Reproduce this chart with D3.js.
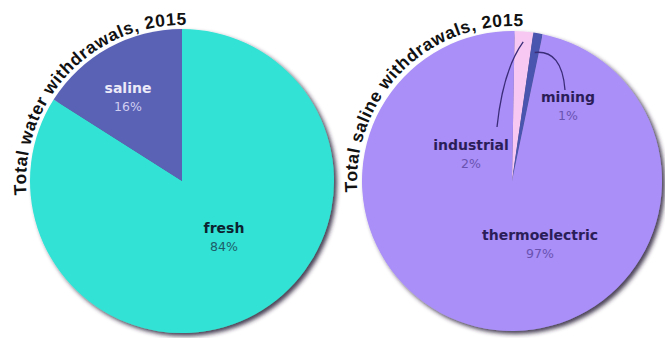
<!DOCTYPE html>
<html>
<head>
<meta charset="utf-8">
<script src="https://cdn.jsdelivr.net/npm/d3@7"></script>
<style>
  body { margin: 0; background: #fff; }
  svg { display: block; }
</style>
</head>
<body>
<div id="vis"></div>
<script>
// data
var totalCats = ["fresh", "saline"];
var totalVals = [84, 16];
var salineCats = ["industrial", "mining", "thermoelectric"];
var salineVals = [2, 1, 97];
var titles = ["Total water withdrawals, 2015", "Total saline withdrawals, 2015"];

var width = 665, height = 338;

var colorArray = {
    "fresh": "#33e2d4",
    "saline": "#5a62b6",
    "industrial": "#f6c8f2",
    "mining": "#4a55ae",
    "thermoelectric": "#a98ff7"
};
var nameColor = {
    "fresh": "#0d2230", "saline": "#eceaf8",
    "industrial": "#2b1d57", "mining": "#2b1d57", "thermoelectric": "#2b1d57"
};
var pctColor = {
    "fresh": "#1d5d6a", "saline": "#cfcdf0",
    "industrial": "#6a52b2", "mining": "#6a52b2", "thermoelectric": "#6a52b2"
};
// label baseline, relative to pie centre
var labelOffset = {
    "saline": [-54, -88], "fresh": [42, 52],
    "industrial": [-41, -31], "mining": [56, -79], "thermoelectric": [28, 59]
};

var svg = d3.select("#vis").append("svg")
    .attr("width", width)
    .attr("height", height);

var defs = svg.append("defs");
defs.append("filter")
    .attr("id", "shadow")
    .attr("x", "-10%").attr("y", "-10%")
    .attr("width", "125%").attr("height", "125%")
    .append("feDropShadow")
    .attr("dx", 3).attr("dy", 3)
    .attr("stdDeviation", 2.2)
    .attr("flood-color", "#2a2438")
    .attr("flood-opacity", 0.85);

var pies = [
    { cats: totalCats, vals: totalVals, cx: 182, cy: 181, r: 152, start: 0, title: titles[0], titleR: 156, titleFrom: -95, titleTo: 1.5 },
    { cats: salineCats, vals: salineVals, cx: 512, cy: 181, r: 150, start: 1, title: titles[1], titleR: 155, titleFrom: -94, titleTo: 4 }
];

const rad = a => a * Math.PI / 180;

pies.forEach(function(p, pi) {
    var g = svg.append("g")
        .attr("transform", "translate(" + [p.cx, p.cy] + ")");

    var rows = p.cats.map((c, i) => ({ name: c, value: p.vals[i] }));
    var pie = d3.pie()
        .sort(null)
        .value(d => d.value)
        .startAngle(rad(p.start))
        .endAngle(rad(p.start) + 2 * Math.PI);
    var arcs = pie(rows);

    var arc = d3.arc().innerRadius(0).outerRadius(p.r);

    g.append("g")
        .attr("filter", "url(#shadow)")
        .selectAll("path")
        .data(arcs)
        .enter().append("path")
        .attr("d", arc)
        .style("fill", d => colorArray[d.data.name]);

    // leader lines for the thin slices
    arcs.forEach(function(d) {
        var mid = (d.startAngle + d.endAngle) / 2;
        var off = labelOffset[d.data.name];
        var path = null;
        if (d.data.name == "industrial") {
            var s = [Math.sin(mid) * p.r * 0.93, -Math.cos(mid) * p.r * 0.93];
            path = d3.path();
            path.moveTo(s[0], s[1]);
            path.quadraticCurveTo(off[0] + 32, s[1] + 28, off[0] + 26, off[1] - 23);
        }
        if (d.data.name == "mining") {
            var s = [Math.sin(mid) * p.r * 0.87, -Math.cos(mid) * p.r * 0.87];
            path = d3.path();
            path.moveTo(s[0], s[1]);
            path.quadraticCurveTo(off[0] - 6, s[1] - 3, off[0] - 3, off[1] - 12);
        }
        if (path) {
            g.append("path")
                .attr("d", path.toString())
                .style("fill", "none")
                .style("stroke", "#3b2c78")
                .style("stroke-width", 1.3);
        }
    });

    var labels = g.selectAll(".lbl")
        .data(arcs)
        .enter().append("g")
        .attr("class", "lbl")
        .attr("transform", d => "translate(" + labelOffset[d.data.name] + ")");

    labels.append("text")
        .attr("text-anchor", "middle")
        .style("font-family", "'DejaVu Sans', sans-serif")
        .style("font-weight", "bold")
        .style("font-size", "14px")
        .style("fill", d => nameColor[d.data.name])
        .text(d => d.data.name);

    labels.append("text")
        .attr("text-anchor", "middle")
        .attr("y", 18)
        .style("font-family", "'DejaVu Sans', sans-serif")
        .style("font-size", "12.5px")
        .style("fill", d => pctColor[d.data.name])
        .text(d => d3.format(".0f")(d.data.value) + "%");

    // curved title along the top-left edge
    var tp = d3.path();
    tp.arc(0, 0, p.titleR, rad(p.titleFrom - 90), rad(p.titleTo - 90), false);
    defs.append("path")
        .attr("id", "titleArc" + pi)
        .attr("d", tp.toString());

    var arcLen = rad(p.titleTo - p.titleFrom) * p.titleR;
    g.append("text")
        .style("font-family", "'Liberation Sans', Arial, sans-serif")
        .style("font-weight", "bold")
        .style("font-size", "17.5px")
        .style("fill", "#111")
        .append("textPath")
        .attr("href", "#titleArc" + pi)
        .attr("startOffset", "0")
        .attr("textLength", arcLen)
        .attr("lengthAdjust", "spacing")
        .text(p.title);
});
</script>
</body>
</html>
